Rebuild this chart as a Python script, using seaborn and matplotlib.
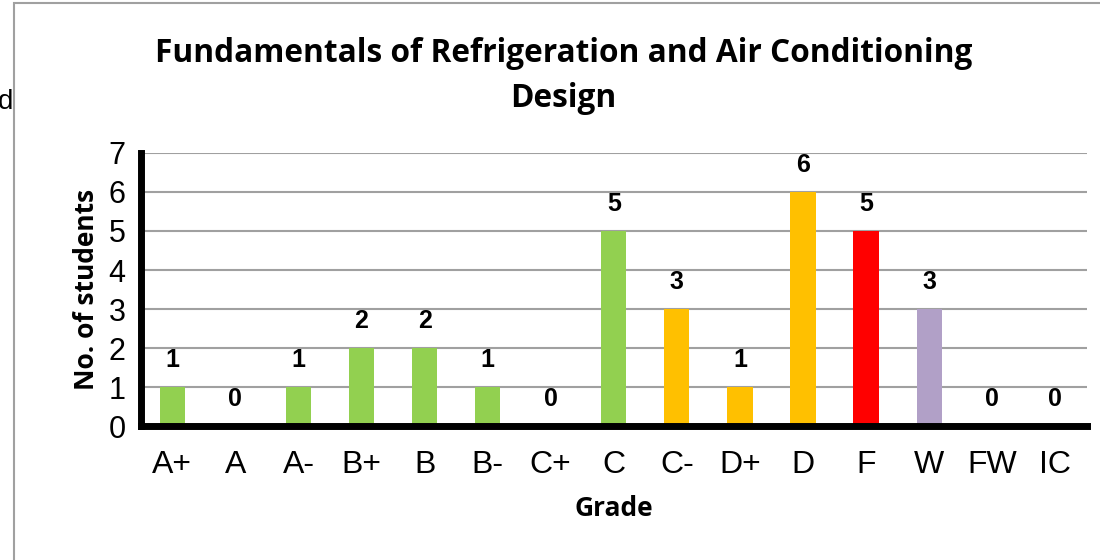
import matplotlib
matplotlib.use("Agg")
import matplotlib.pyplot as plt
from matplotlib.patches import Rectangle
import numpy as np
import pandas as pd
import seaborn as sns

grades = ["A+", "A", "A-", "B+", "B", "B-", "C+", "C", "C-", "D+", "D", "F", "W", "FW", "IC"]
students = [1, 0, 1, 2, 2, 1, 0, 5, 3, 1, 6, 5, 3, 0, 0]
bar_colors = ["#92D050"] * 8 + ["#FFC000"] * 3 + ["#FF0000", "#B1A0C7", "#B1A0C7", "#B1A0C7"]

df = pd.DataFrame({"Grade": grades, "Students": students})

sns.set_style("white")
plt.rcParams["font.family"] = ["Liberation Sans", "DejaVu Sans"]
plt.rcParams.update({"text.color": "black", "axes.labelcolor": "black",
                     "xtick.color": "black", "ytick.color": "black"})

fig = plt.figure(figsize=(11, 5.6), dpi=100)
ax = fig.add_axes([0.128, 0.239, 0.860, 0.488])

sns.barplot(data=df, x="Grade", y="Students", hue="Grade", palette=dict(zip(grades, bar_colors)),
            width=0.4, legend=False, ax=ax, saturation=1, linewidth=0, edgecolor="none")

ax.set_xlim(-0.5, len(grades) - 0.5)
ax.set_ylim(0, 7)
ax.set_yticks(range(8))
ax.yaxis.grid(True, color="#A0A0A0", linewidth=1.5)
ax.set_axisbelow(True)

for s in ["top", "right"]:
    ax.spines[s].set_visible(False)
for s in ["left", "bottom"]:
    ax.spines[s].set_linewidth(5)
    ax.spines[s].set_color("black")

ax.set_xticks(np.arange(len(grades)))
ax.set_xticklabels(grades)
ax.set_xticks(np.arange(-0.5, len(grades)), minor=True)
ax.tick_params(axis="x", which="major", length=0, pad=17, labelsize=23)
ax.tick_params(axis="x", which="minor", length=7, width=5, color="black", direction="out")
ax.tick_params(axis="y", length=7, width=5, color="black", direction="out", labelsize=22, pad=4)

for i, v in enumerate(students):
    ax.text(i, v + 0.38, str(v), ha="center", va="bottom", fontsize=18, fontweight="bold")

ax.set_xlabel("Grade", fontsize=19, fontweight="bold", family=["Open Sans", "DejaVu Sans"], labelpad=11)
ax.set_ylabel("No. of students", fontsize=19, fontweight="bold", family=["Open Sans", "DejaVu Sans"], labelpad=6)

fig.text(0.512, 1 - 76 / 560, "Fundamentals of Refrigeration and Air Conditioning\nDesign", ha="center", va="center",
         fontsize=22.8, fontweight="bold", family=["Open Sans", "DejaVu Sans"], linespacing=1.5)

fig.text(-0.002, 1 - 102 / 560, "d", ha="left", va="center", fontsize=20)

fig.patches.append(Rectangle((14 / 1100, -0.1), 1.2, 1 - 3 / 560 + 0.1, transform=fig.transFigure,
                             fill=False, edgecolor="#A0A0A0", linewidth=1.5))

fig.savefig("out.png", dpi=100)
